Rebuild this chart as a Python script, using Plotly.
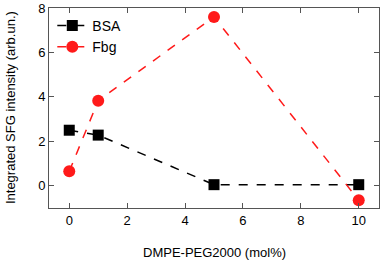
import plotly.graph_objects as go

x_vals = [0, 1, 5, 10]
bsa = [2.5, 2.28, 0.05, 0.05]
fbg = [0.65, 3.83, 7.6, -0.65]
x_ticks = [0, 2, 4, 6, 8, 10]
y_ticks = [0, 2, 4, 6, 8]

fig = go.Figure()
fig.add_trace(go.Scatter(x=x_vals, y=bsa, name="BSA", mode="lines+markers",
                         line=dict(color="black", dash="dash", width=1.5),
                         marker=dict(symbol="square", size=11, color="black")))
fig.add_trace(go.Scatter(x=x_vals, y=fbg, name="Fbg", mode="lines+markers",
                         line=dict(color="#ff1a1a", dash="dash", width=1.5),
                         marker=dict(symbol="circle", size=12, color="#ff1a1a")))

axis_common = dict(showgrid=False, zeroline=False, showline=True, linecolor="#555",
                   linewidth=1, mirror="ticks", ticks="inside", ticklen=5,
                   tickcolor="#555", tickfont=dict(size=13, color="black"),
                   automargin=False)
fig.update_xaxes(range=[-0.7, 10.7], tickvals=x_ticks, **axis_common)
fig.update_yaxes(range=[-1, 8], tickvals=y_ticks, **axis_common)
fig.add_annotation(text="DMPE-PEG2000 (mol%)", xref="paper", yref="paper",
                   x=0.5, y=-0.22, xanchor="center", yanchor="middle",
                   showarrow=False, font=dict(size=13, color="black"))
fig.add_annotation(text="Integrated SFG intensity (arb.un.)", xref="paper", yref="paper",
                   x=-0.118, y=0.5, xanchor="center", yanchor="middle", textangle=-90,
                   showarrow=False, font=dict(size=13, color="black"))
fig.update_layout(width=382, height=262, margin=dict(l=49, r=3, t=8, b=54, autoexpand=False),
                  plot_bgcolor="white", paper_bgcolor="white",
                  font=dict(family="Liberation Sans, Arial, sans-serif"),
                  showlegend=True,
                  legend=dict(x=0.01, y=0.99, xanchor="left", yanchor="top",
                              bgcolor="rgba(0,0,0,0)", font=dict(size=14, color="black"),
                              tracegroupgap=0, itemwidth=30))
fig.write_html("out.html", config={"displayModeBar": False},
               post_script="document.body.style.margin='0';document.body.style.overflow='hidden';")
